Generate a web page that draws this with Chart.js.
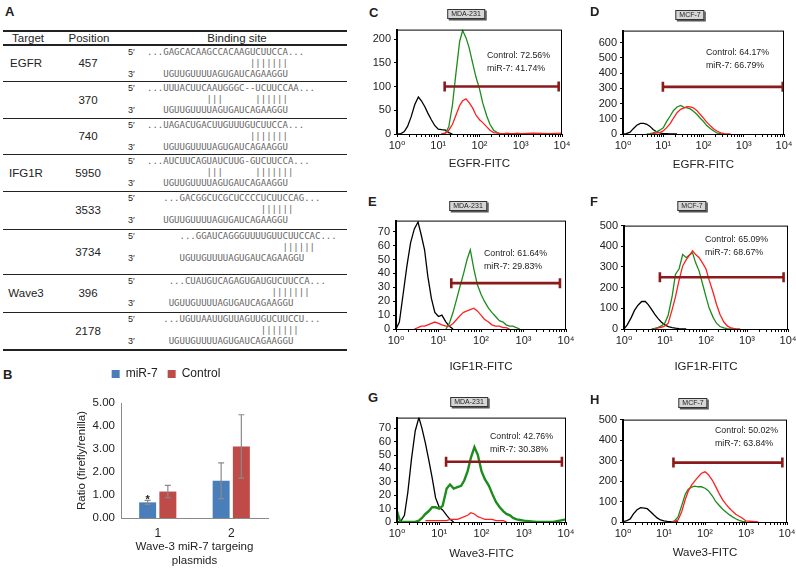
<!DOCTYPE html>
<html lang="en">
<head>
<meta charset="UTF-8">
<title>miR-7 targets: binding sites, luciferase and FACS</title>
<script src="https://cdn.jsdelivr.net/npm/chart.js"></script>
<style>
    html, body {
        margin: 0;
        width: 796px;
        height: 568px;
        overflow: hidden;
        background: #fff;
    }
    body {
        position: relative;
        font-family: "Liberation Sans", Arial, "DejaVu Sans", sans-serif;
        color: #222;
    }
    canvas { position: absolute; }
    .letter {
        position: absolute;
        font-weight: bold;
        font-size: 13px;
        line-height: 13px;
        z-index: 2;
    }
    .tag {
        position: absolute;
        transform: translate(-50%, -50%);
        font-size: 7px;
        line-height: 8px;
        padding: 0 3px;
        background: #d6d6d6;
        border: 1px solid #333;
        box-shadow: 1.5px 1.5px 0 #555;
        z-index: 2;
    }
    .note {
        position: absolute;
        font-size: 8.8px;
        line-height: 13px;
        white-space: nowrap;
        z-index: 2;
    }
    .rule { position: absolute; left: 3px; width: 344px; background: #222; }
    .cell {
        position: absolute;
        transform: translate(-50%, -50%);
        font-size: 11.5px;
        white-space: nowrap;
    }
    .seq {
        position: absolute;
        left: 147px;
        transform: translateY(-50%);
        font-family: "DejaVu Sans Mono", monospace;
        font-size: 9px;
        line-height: 10px;
        color: #666;
        white-space: pre;
    }
    .prime {
        position: absolute;
        left: 128px;
        transform: translateY(-50%);
        font-size: 9px;
    }
</style>
</head>
<body>
<div class="letter" style="left:5px;top:5px">A</div>
<div class="letter" style="left:3px;top:368px">B</div>

<script>
    const _ = null;

    // ---- A: predicted miR-7 binding sites ----
    const targets = ['EGFR', '', '', 'IFG1R', '', '', 'Wave3', ''];
    const positions = ['457', '370', '740', '5950', '3533', '3734', '396', '2178'];
    const site5 = [
        '...GAGCACAAGCCACAAGUCUUCCA...',
        '...UUUACUUCAAUGGGC--UCUUCCAA...',
        '...UAGACUGACUUGUUUGUCUUCCA...',
        '...AUCUUCAGUAUCUUG-GUCUUCCA...',
        '...GACGGCUCGCUCCCCUCUUCCAG...',
        '...GGAUCAGGGUUUUGUUCUUCCAC...',
        '...CUAUGUCAGAGUGAUGUCUUCCA...',
        '...UGUUAAUUGUUAGUUGUCUUCCU...'
    ];
    const site5Shift = [0, 0, 0, 0, 3, 6, 4, 3];
    const mir7Seq = 'UGUUGUUUUAGUGAUCAGAAGGU';
    const site3Shift = [3, 3, 3, 3, 3, 6, 4, 4];
    const pairRuns = [
        [[19, 7]], [[11, 3], [20, 6]], [[19, 7]], [[11, 3], [20, 7]],
        [[21, 6]], [[25, 6]], [[23, 7]], [[21, 7]]
    ];
    const rowLines = [45, 81, 118, 154, 191, 229, 274, 312, 350];

    // ---- B: luciferase reporter ----
    const plasmids = ['1', '2'];
    const mir7Ratio = [0.68, 1.62];
    const mir7Err = [0.09, 0.78];
    const mir7Mark = ['*', ''];
    const controlRatio = [1.15, 3.11];
    const controlErr = [0.27, 1.38];

    // ---- C-H: flow cytometry histograms (shared FITC grid) ----
    const fitcX = [1, 1.2, 1.5, 1.8, 2.2, 2.7, 3.3, 3.9, 4.7, 5.6, 6.8, 8.2, 10, 12, 15, 18, 22, 27, 33, 39,
                   47, 56, 68, 82, 100, 120, 150, 180, 220, 270, 330, 390, 470, 560, 680, 820, 1000, 2000, 5000, 10000];
    const decadeTicks = [1, 10, 100, 1000, 10000];
    const decadeLabels = ['10\u2070', '10\u00b9', '10\u00b2', '10\u00b3', '10\u2074'];

    const cBlack = [0, 0, 5, 16, 36, 62, 78, 70, 58, 44, 30, 18, 10, 9, 8, 3, 0, _, _, _, _, _, _, _, _, _, _, _, _, _, _, _, _, _, _, _, _, _, _, _];
    const cGreen = [_, _, _, _, _, _, _, _, _, _, _, _, _, 0, 2, 15, 60, 130, 195, 218, 203, 182, 150, 120, 95, 65, 38, 20, 8, 3, 0, 0, 0, _, _, _, _, _, _, _];
    const cRed   = [_, _, _, _, _, _, _, _, _, _, _, _, _, 0, 2, 8, 20, 40, 60, 70, 74, 66, 55, 40, 30, 24, 15, 8, 3, 2, 1, 1, 2, 1, 1, 2, 1, 2, 1, 2];

    const dBlack = [0, 2, 12, 35, 58, 70, 70, 64, 50, 30, 15, 7, 3, 2, 1, 1, 0, _, _, _, _, _, _, _, _, _, _, _, _, _, _, _, _, _, _, _, _, _, _, _];
    const dGreen = [_, _, _, _, _, _, _, 0, 3, 8, 15, 25, 40, 80, 120, 155, 178, 188, 175, 172, 165, 150, 130, 105, 82, 55, 35, 20, 5, 2, 0, _, _, _, _, _, _, _, _, _];
    const dRed   = [_, _, _, _, _, _, _, _, 0, 3, 6, 10, 20, 40, 70, 105, 140, 162, 172, 180, 178, 172, 155, 130, 104, 78, 52, 33, 18, 8, 3, 1, 0, _, _, _, _, _, _, _];

    const eBlack = [0, 5, 27, 45, 62, 72, 77, 68, 57, 38, 22, 12, 9, 10, 5, 2, 0, _, _, _, _, _, _, _, _, _, _, _, _, _, _, _, _, _, _, _, _, _, _, _];
    const eGreen = [_, _, _, _, _, _, _, _, _, _, _, _, _, _, 0, 4, 12, 22, 32, 40, 50, 57, 43, 32, 25, 20, 15, 12, 9, 6, 5, 3, 2, 2, 1, 0, _, _, _, _];
    const eRed   = [_, _, _, _, _, 0, 1, 2, 2, 3, 4, 5, 4, 3, 2, 2, 4, 7, 10, 12, 13, 14, 15, 13, 10, 7, 5, 3, 2, 2, 1, 1, 0, _, _, _, _, _, _, _];

    const fBlack = [0, 20, 55, 90, 115, 133, 133, 118, 95, 72, 50, 33, 20, 12, 7, 4, 2, 1, 0, _, _, _, _, _, _, _, _, _, _, _, _, _, _, _, _, _, _, _, _, _];
    const fGreen = [_, _, _, _, _, _, _, _, 0, 3, 8, 15, 30, 68, 160, 265, 290, 360, 345, 358, 368, 320, 280, 220, 155, 100, 55, 28, 12, 5, 2, 0, 0, _, _, _, _, _, _, _];
    const fRed   = [_, _, _, _, _, _, _, _, _, 0, 5, 8, 15, 28, 95, 155, 235, 305, 335, 355, 378, 360, 345, 320, 290, 235, 175, 120, 70, 35, 15, 7, 3, 1, 0, _, _, _, _, _];

    const gBlack = [0, 0, 5, 22, 47, 68, 78, 70, 59, 47, 33, 18, 11, 9, 5, 2, 0, _, _, _, _, _, _, _, _, _, _, _, _, _, _, _, _, _, _, _, _, _, _, _];
    const gGreen = [8, 0, 0, 0, 0, 0, 1, 3, 6, 8, 11, 11, 10, 12, 25, 28, 25, 26, 27, 31, 38, 48, 56, 50, 38, 32, 27, 21, 15, 11, 8, 6, 5, 3, 2, 1.5, 1, 0, 0, 2];
    const gRed   = [_, _, _, _, _, _, _, _, 1, 1, 1, 1, 1, 1, 1, 2, 2, 2, 3, 4, 5, 7, 6, 4, 3, 2, 2, 2, 1, 1, 1, 0, _, _, _, _, _, _, _, _];

    const hBlack = [2, 5, 15, 40, 60, 70, 68, 65, 50, 35, 20, 10, 5, 3, 2, 1, 0, _, _, _, _, _, _, _, _, _, _, _, _, _, _, _, _, _, _, _, _, _, _, _];
    const hGreen = [_, _, _, _, _, _, _, _, _, _, _, _, _, _, 0, 5, 25, 80, 135, 160, 170, 175, 172, 172, 165, 153, 128, 102, 82, 62, 48, 36, 25, 16, 8, 3, 0, _, _, _];
    const hRed   = [_, _, _, _, _, _, _, _, _, _, _, _, _, _, 0, 2, 10, 50, 110, 150, 180, 200, 220, 238, 245, 232, 205, 175, 140, 108, 85, 68, 52, 38, 28, 18, 5, 0, _, _];

    const panelLetters = ['C', 'D', 'E', 'F', 'G', 'H'];
    const cellLines = ['MDA-231', 'MCF-7', 'MDA-231', 'MCF-7', 'MDA-231', 'MCF-7'];
    const xTitles = ['EGFR-FITC', 'EGFR-FITC', 'IGF1R-FITC', 'IGF1R-FITC', 'Wave3-FITC', 'Wave3-FITC'];
    const controlPct = ['72.56%', '64.17%', '61.64%', '65.09%', '42.76%', '50.02%'];
    const mir7Pct = ['41.74%', '66.79%', '29.83%', '68.67%', '30.38%', '63.84%'];
    const yMax = [220, 680, 78, 500, 78, 500];
    const yStep = [50, 100, 10, 100, 10, 100];
    const gateLo = [14.3, 9.8, 20, 7.5, 14.5, 17];
    const gateHi = [8300, 9300, 7200, 7800, 8000, 7700];
    const gateLevel = [100, 310, 33, 250, 45, 290];

    // layout of each histogram panel (plot box in page pixels, label spots)
    const panelLayout = [
        { l: 397, r: 562, t: 28,  b: 134, gap: 30, letter: [369, 6],   tag: [466, 14],  note: [487, 55] },
        { l: 623, r: 784, t: 29,  b: 134, gap: 31, letter: [590, 5],   tag: [690, 15],  note: [706, 52] },
        { l: 396, r: 566, t: 219, b: 329, gap: 38, letter: [368, 195], tag: [468, 206], note: [484, 253] },
        { l: 624, r: 788, t: 224, b: 329, gap: 38, letter: [590, 195], tag: [692, 206], note: [705, 239] },
        { l: 397, r: 566, t: 416, b: 522, gap: 32, letter: [368, 391], tag: [469, 402], note: [490, 436] },
        { l: 623, r: 787, t: 418, b: 522, gap: 31, letter: [590, 393], tag: [693, 403], note: [715, 430] }
    ];
    const greenWidth = [1.3, 1.3, 1.3, 1.3, 2.4, 1.3];

    Chart.defaults.font.family = '"Liberation Sans", Arial, "DejaVu Sans", sans-serif';
    Chart.defaults.color = '#222';
    Chart.defaults.animation = false;

    function addDiv(cls, left, top, html) {
        const d = document.createElement('div');
        d.className = cls;
        d.style.left = left + 'px';
        d.style.top = top + 'px';
        d.innerHTML = html;
        document.body.appendChild(d);
        return d;
    }

    function addCanvas(left, top, width, height) {
        const c = document.createElement('canvas');
        c.width = width;
        c.height = height;
        c.style.left = left + 'px';
        c.style.top = top + 'px';
        document.body.appendChild(c);
        return c;
    }

    // ---- table A ----
    function buildTable() {
        const rule = (y, h) => {
            const r = addDiv('rule', 3, y - h / 2, '');
            r.style.height = h + 'px';
        };
        rule(31, 2);
        rule(45, 1.5);
        rowLines.slice(1, -1).forEach(y => rule(y, 1));
        rule(350, 2);

        addDiv('cell', 28, 38, 'Target');
        addDiv('cell', 89, 38, 'Position');
        addDiv('cell', 237, 38, 'Binding site');

        positions.forEach((pos, i) => {
            const top = rowLines[i];
            const mid = (top + rowLines[i + 1]) / 2;
            if (targets[i]) addDiv('cell', 26, mid, targets[i]);
            addDiv('cell', 88, mid, pos);
            addDiv('prime', 128, top + 7, '5\u2032');
            addDiv('prime', 128, top + 29, '3\u2032');
            const s5 = ' '.repeat(site5Shift[i]) + site5[i];
            let bars = '';
            pairRuns[i].forEach(([start, n]) => { bars += ' '.repeat(start - bars.length) + '|'.repeat(n); });
            const s3 = ' '.repeat(site3Shift[i]) + mir7Seq;
            addDiv('seq', 147, top + 7, s5);
            addDiv('seq', 147, top + 18, bars);
            addDiv('seq', 147, top + 29, s3);
        });
    }
    buildTable();

    // ---- B: bar chart with error bars ----
    const errorBars = {
        id: 'errorBars',
        afterDatasetsDraw(chart) {
            const ctx = chart.ctx;
            const y = chart.scales.y;
            chart.data.datasets.forEach((ds, di) => {
                chart.getDatasetMeta(di).data.forEach((bar, i) => {
                    const v = ds.data[i], e = ds.errors[i];
                    const top = y.getPixelForValue(v + e);
                    const bot = y.getPixelForValue(v - e);
                    ctx.save();
                    ctx.strokeStyle = '#8a8a8a';
                    ctx.lineWidth = 1.2;
                    ctx.beginPath();
                    ctx.moveTo(bar.x, top); ctx.lineTo(bar.x, bot);
                    ctx.moveTo(bar.x - 3, top); ctx.lineTo(bar.x + 3, top);
                    ctx.moveTo(bar.x - 3, bot); ctx.lineTo(bar.x + 3, bot);
                    ctx.stroke();
                    if (ds.marks && ds.marks[i]) {
                        ctx.fillStyle = '#222';
                        ctx.font = 'bold 11px "Liberation Sans", Arial, sans-serif';
                        ctx.textAlign = 'center';
                        ctx.textBaseline = 'bottom';
                        ctx.fillText(ds.marks[i], bar.x, top + 5);
                    }
                    ctx.restore();
                });
            });
        }
    };

    // extra room between the legend and the plot
    const legendGap = {
        id: 'legendGap',
        beforeInit(chart) {
            const fit = chart.legend.fit;
            chart.legend.fit = function () {
                fit.bind(chart.legend)();
                this.height += 13;
            };
        }
    };

    new Chart(addCanvas(64, 354, 226, 214), {
        type: 'bar',
        data: {
            labels: plasmids,
            datasets: [
                { label: 'miR-7', data: mir7Ratio, errors: mir7Err, marks: mir7Mark, backgroundColor: '#4a7ebb' },
                { label: 'Control', data: controlRatio, errors: controlErr, backgroundColor: '#be4b48' }
            ]
        },
        options: {
            responsive: false,
            layout: { padding: { top: 4, right: 22, left: 0, bottom: 0 } },
            categoryPercentage: 0.55,
            barPercentage: 0.84,
            plugins: {
                tooltip: { enabled: false },
                legend: {
                    position: 'top',
                    labels: { boxWidth: 8, boxHeight: 8, padding: 10, font: { size: 12 }, color: '#222' }
                }
            },
            scales: {
                x: {
                    afterFit: s => { s.height = 50; },
                    grid: { display: false, tickLength: 0 },
                    border: { color: '#8a8a8a' },
                    ticks: { padding: 8, font: { size: 12 } },
                    title: {
                        display: true,
                        text: ['Wave-3 miR-7 targeing', 'plasmids'],
                        font: { size: 11.5 },
                        padding: { top: 0, bottom: 0 }
                    }
                },
                y: {
                    min: 0,
                    max: 5,
                    afterFit: s => { s.width = 57; },
                    grid: { display: false, tickLength: 0 },
                    border: { color: '#8a8a8a' },
                    ticks: { stepSize: 1, padding: 6, font: { size: 11.5 }, callback: v => v.toFixed(2) },
                    title: {
                        display: true,
                        text: 'Ratio (firefly/renilla)',
                        font: { size: 11.5 },
                        padding: { top: 11, bottom: 0 }
                    }
                }
            }
        },
        plugins: [errorBars, legendGap]
    });

    // ---- C-H: histograms ----
    const frame = {
        id: 'frame',
        afterDraw(chart) {
            const { left, top, right, bottom } = chart.chartArea;
            const ctx = chart.ctx;
            ctx.save();
            ctx.strokeStyle = '#000';
            ctx.lineWidth = 1;
            ctx.strokeRect(left + 0.5, top + 0.5, right - left - 1, bottom - top);
            ctx.restore();
        }
    };

    const toXY = arr => fitcX.map((x, i) => ({ x: x, y: arr[i] }));

    const series = [
        [cBlack, cGreen, cRed], [dBlack, dGreen, dRed], [eBlack, eGreen, eRed],
        [fBlack, fGreen, fRed], [gBlack, gGreen, gRed], [hBlack, hGreen, hRed]
    ];

    series.forEach(([black, green, red], i) => {
        const box = panelLayout[i];
        const yW = 36, padTop = 8, padRight = 12, xH = 48;
        const canvas = addCanvas(box.l - yW, box.t - padTop,
            box.r - box.l + yW + padRight, box.b - box.t + padTop + xH);
        const gate = '#8b1a1a';

        new Chart(canvas, {
            type: 'line',
            data: {
                datasets: [
                    {
                        data: [{ x: gateLo[i], y: gateLevel[i] }, { x: gateHi[i], y: gateLevel[i] }],
                        borderColor: gate, borderWidth: 2.6,
                        pointStyle: 'line', pointRotation: 90, pointRadius: 5,
                        pointBorderWidth: 2.6, pointBorderColor: gate, order: 0
                    },
                    { data: toXY(red), borderColor: '#ff1f1f', borderWidth: 1.3, order: 1 },
                    { data: toXY(green), borderColor: '#1c8c1c', borderWidth: greenWidth[i], order: 2 },
                    { data: toXY(black), borderColor: '#000', borderWidth: 1.3, order: 3 }
                ]
            },
            options: {
                responsive: false,
                layout: { padding: { top: padTop, right: padRight, left: 0, bottom: 0 } },
                elements: { point: { radius: 0 }, line: { tension: 0 } },
                plugins: { legend: { display: false }, tooltip: { enabled: false } },
                scales: {
                    x: {
                        type: 'logarithmic',
                        min: 1,
                        max: 10000,
                        afterFit: s => { s.height = xH; },
                        afterBuildTicks: s => {
                            const t = [];
                            decadeTicks.forEach((d, k) => {
                                t.push({ value: d });
                                if (k < decadeTicks.length - 1) {
                                    for (let m = 2; m < 10; m++) t.push({ value: d * m });
                                }
                            });
                            s.ticks = t;
                        },
                        grid: { drawOnChartArea: false, tickLength: 3, color: '#000' },
                        border: { color: '#000' },
                        ticks: {
                            autoSkip: false,
                            maxRotation: 0,
                            padding: 2,
                            font: { size: 11 },
                            callback: v => {
                                const k = decadeTicks.indexOf(v);
                                return k >= 0 ? decadeLabels[k] : '';
                            }
                        },
                        title: {
                            display: true,
                            text: xTitles[i],
                            font: { size: 11.5 },
                            padding: { top: 0, bottom: xH - 7 - box.gap }
                        }
                    },
                    y: {
                        min: 0,
                        max: yMax[i],
                        afterFit: s => { s.width = yW; },
                        grid: { drawOnChartArea: false, tickLength: 3, color: '#000' },
                        border: { color: '#000', width: 2 },
                        ticks: { stepSize: yStep[i], includeBounds: false, autoSkip: false, padding: 3, font: { size: 11 } }
                    }
                }
            },
            plugins: [frame]
        });

        addDiv('letter', box.letter[0], box.letter[1], panelLetters[i]);
        addDiv('tag', box.tag[0], box.tag[1], cellLines[i]);
        addDiv('note', box.note[0], box.note[1] - 6.5,
            'Control: ' + controlPct[i] + '<br>miR-7: ' + mir7Pct[i]);
    });
</script>
</body>
</html>
